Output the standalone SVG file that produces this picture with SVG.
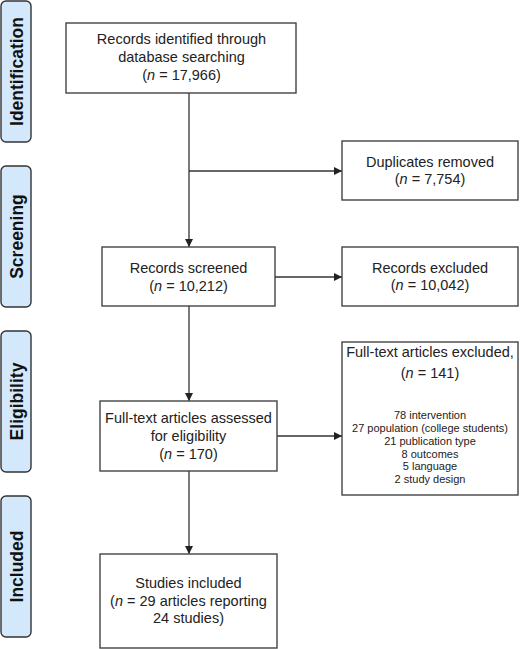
<svg xmlns="http://www.w3.org/2000/svg" width="520" height="649" viewBox="0 0 520 649">
<defs>
<marker id="ah" viewBox="0 0 10 10" refX="10" refY="5" markerWidth="8" markerHeight="8" markerUnits="userSpaceOnUse" orient="auto">
<path d="M0,0 L10,5 L0,10 z" fill="#222"/>
</marker>
<style>
.box{fill:#fff;stroke:#444;stroke-width:1.4}
.side{fill:#d3e9fb;stroke:#333;stroke-width:1.4}
.sl{font-family:"Liberation Sans",Arial,sans-serif;font-weight:bold;font-size:17.5px;fill:#111;text-anchor:middle}
.t{font-family:"Liberation Sans",Arial,sans-serif;font-size:14.5px;fill:#222;text-anchor:middle}
.s{font-family:"Liberation Sans",Arial,sans-serif;font-size:11px;fill:#222;text-anchor:middle}
.i{font-style:italic}
.c{stroke:#333;stroke-width:1.3;fill:none}
</style>
</defs>
<rect width="520" height="649" fill="#fff"/>

<g id="phase-identification">
<rect class="side" x="1" y="1" width="30" height="141" rx="5"/>
<text class="sl" transform="translate(22.5,71.5) rotate(-90)">Identification</text>
</g>
<g id="phase-screening">
<rect class="side" x="1" y="166" width="30" height="141" rx="5"/>
<text class="sl" transform="translate(22.5,236.5) rotate(-90)">Screening</text>
</g>
<g id="phase-eligibility">
<rect class="side" x="1" y="331" width="30" height="141" rx="5"/>
<text class="sl" transform="translate(22.5,401.5) rotate(-90)">Eligibility</text>
</g>
<g id="phase-included">
<rect class="side" x="1" y="496" width="30" height="141" rx="5"/>
<text class="sl" transform="translate(22.5,566.5) rotate(-90)">Included</text>
</g>

<g id="connectors">
<line class="c" x1="189" y1="93" x2="189" y2="247" marker-end="url(#ah)"/>
<line class="c" x1="189" y1="171" x2="342" y2="171" marker-end="url(#ah)"/>
<line class="c" x1="275" y1="277" x2="342" y2="277" marker-end="url(#ah)"/>
<line class="c" x1="189" y1="306" x2="189" y2="401" marker-end="url(#ah)"/>
<line class="c" x1="277" y1="436" x2="342" y2="436" marker-end="url(#ah)"/>
<line class="c" x1="189" y1="471" x2="189" y2="554" marker-end="url(#ah)"/>
</g>

<g id="identified">
<rect class="box" x="66" y="23" width="230" height="70"/>
<text class="t" x="181.5" y="44">Records identified through</text>
<text class="t" x="181.5" y="62">database searching</text>
<text class="t" x="181.5" y="80">(<tspan class="i">n</tspan> = 17,966)</text>
</g>

<g id="duplicates">
<rect class="box" x="342" y="141" width="176" height="59"/>
<text class="t" x="430" y="166.5">Duplicates removed</text>
<text class="t" x="430" y="184">(<tspan class="i">n</tspan> = 7,754)</text>
</g>

<g id="screened">
<rect class="box" x="102" y="247" width="173" height="59"/>
<text class="t" x="188.5" y="273">Records screened</text>
<text class="t" x="188.5" y="290.5">(<tspan class="i">n</tspan> = 10,212)</text>
</g>

<g id="excluded">
<rect class="box" x="342" y="247" width="176" height="59"/>
<text class="t" x="430" y="272.5">Records excluded</text>
<text class="t" x="430" y="290">(<tspan class="i">n</tspan> = 10,042)</text>
</g>

<g id="assessed">
<rect class="box" x="100" y="401" width="177" height="70"/>
<text class="t" x="188.5" y="423">Full-text articles assessed</text>
<text class="t" x="188.5" y="441">for eligibility</text>
<text class="t" x="188.5" y="459">(<tspan class="i">n</tspan> = 170)</text>
</g>

<g id="ft-excluded">
<rect class="box" x="342" y="342" width="176" height="153"/>
<text class="t" x="430" y="357">Full-text articles excluded,</text>
<text class="t" x="430" y="378">(<tspan class="i">n</tspan> = 141)</text>
<text class="s" x="430" y="419">78 intervention</text>
<text class="s" x="430" y="432">27 population (college students)</text>
<text class="s" x="430" y="445">21 publication type</text>
<text class="s" x="430" y="457.5">8 outcomes</text>
<text class="s" x="430" y="470">5 language</text>
<text class="s" x="430" y="483">2 study design</text>
</g>

<g id="included">
<rect class="box" x="100" y="554" width="177" height="94"/>
<text class="t" x="188.5" y="588">Studies included</text>
<text class="t" x="188.5" y="605.5">(<tspan class="i">n</tspan> = 29 articles reporting</text>
<text class="t" x="188.5" y="623">24 studies)</text>
</g>
</svg>
